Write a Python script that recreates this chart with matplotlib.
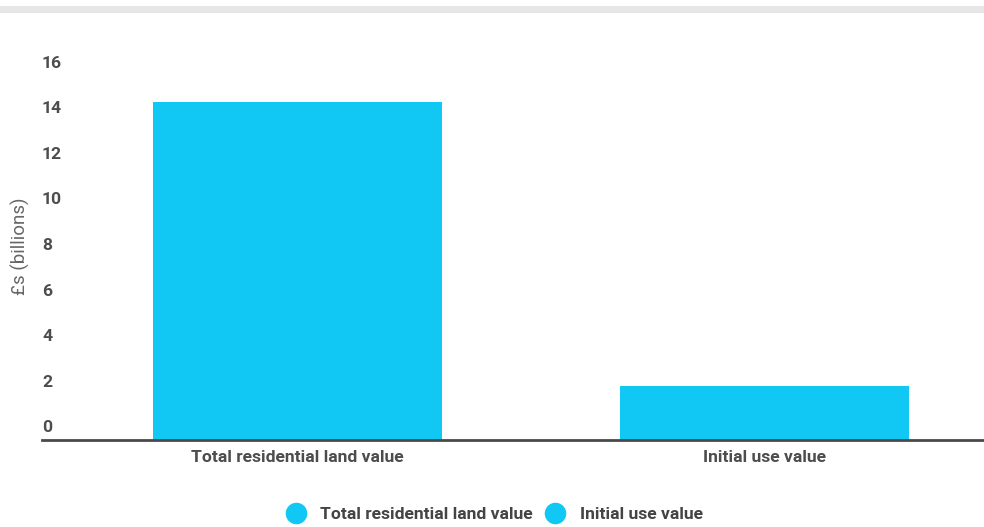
import matplotlib
matplotlib.use("Agg")
import matplotlib.pyplot as plt
import matplotlib.transforms as mtransforms
from matplotlib.lines import Line2D
from matplotlib.patches import Rectangle

categories = ["Total residential land value", "Initial use value"]
values = [14.8, 2.35]
y_ticks = [0, 2, 4, 6, 8, 10, 12, 14, 16]
bar_color = "#10C8F3"

plt.rcParams["font.family"] = ["Roboto", "DejaVu Sans"]

fig = plt.figure(figsize=(9.84, 5.27), dpi=100)
W, H = 984, 527
ax = fig.add_axes([42 / W, (H - 440) / H, (W - 42) / W, (440 - 75) / H])

x = list(range(len(categories)))
ax.bar(x, values, width=0.62, color=bar_color, zorder=2)
ax.set_xlim(-0.547, 1.47)
ax.set_ylim(0, 16)

for s in ["top", "right", "left"]:
    ax.spines[s].set_visible(False)
ax.spines["bottom"].set_color("#4a4a4a")
ax.spines["bottom"].set_linewidth(2)

ax.set_xticks(x)
ax.set_xticklabels(categories, fontsize=12.6, color="#4d4d4d", fontweight="bold")
ax.tick_params(axis="x", length=0, pad=7)

ax.set_yticks([])
off = mtransforms.ScaledTranslation(0, 12 / 100, fig.dpi_scale_trans)
for v in y_ticks:
    ax.text(0, v, str(v), transform=ax.get_yaxis_transform() + off,
            ha="left", va="center", fontsize=12.6, color="#4d4d4d", fontweight="bold")

ax.set_ylabel("£s (billions)", fontsize=13.5, color="#666666")
ax.yaxis.set_label_coords(-12 / 942, 0.532)

# light band at top
fig.patches.append(Rectangle((0, (H - 13) / H), 1, 7 / H, transform=fig.transFigure,
                             facecolor="#e6e6e6", edgecolor="none"))

handles = [Line2D([], [], marker="o", linestyle="none", markersize=14.5,
                  markerfacecolor=bar_color, markeredgecolor=bar_color) for _ in categories]
fig.legend(handles, categories, loc="center", bbox_to_anchor=(0.4985, 1 - 514 / H),
           ncol=2, frameon=False, handletextpad=0.4, columnspacing=0.3,
           labelcolor="#444444", prop={"weight": "bold", "size": 12.6})

fig.savefig("out.png", dpi=100)
